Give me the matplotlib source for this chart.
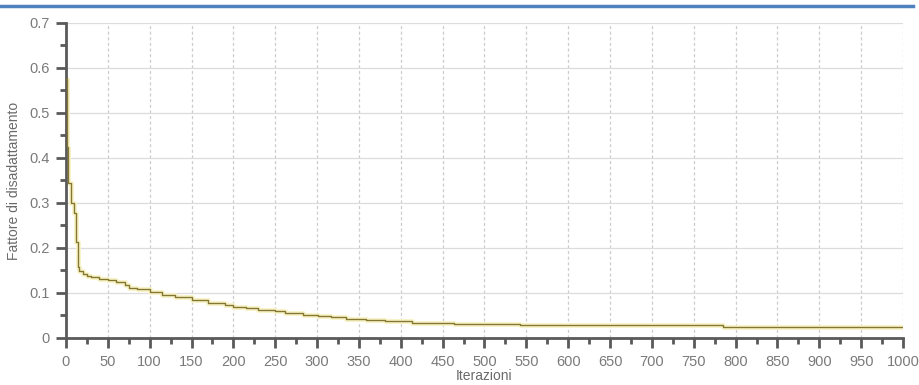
import matplotlib
matplotlib.use("Agg")
import matplotlib.pyplot as plt
from matplotlib.lines import Line2D
from matplotlib.ticker import MultipleLocator

plt.rcParams['font.family'] = ['Liberation Sans', 'DejaVu Sans']

# mismatch factor per iteration (step changes)
iterazioni = [0, 1, 3, 6, 9, 12, 14, 16, 20, 25, 30, 40, 50, 60, 70, 75, 85,
              100, 115, 130, 150, 170, 190, 200, 215, 230, 250, 262, 283, 301,
              317, 335, 359, 381, 413, 463, 543, 785, 1000]
fattore = [0.575, 0.425, 0.345, 0.300, 0.278, 0.213, 0.158, 0.148, 0.142,
           0.138, 0.135, 0.132, 0.128, 0.124, 0.118, 0.112, 0.108, 0.102,
           0.096, 0.090, 0.084, 0.078, 0.073, 0.069, 0.066, 0.062, 0.059,
           0.056, 0.052, 0.049, 0.046, 0.043, 0.040, 0.037, 0.034, 0.031,
           0.028, 0.024, 0.024]

fig = plt.figure(figsize=(9.19, 3.85), dpi=100)
ax = fig.add_axes([0.0718, 0.1221, 0.9108, 0.8182])

# soft yellow halo under the olive trace
ax.plot(iterazioni, fattore, drawstyle='steps-post', color='#f8f3c6',
        lw=3.5, solid_capstyle='butt', zorder=2)
ax.plot(iterazioni, fattore, drawstyle='steps-post', color='#857634',
        lw=1.0, zorder=3)

ax.set_xlim(0, 1000)
ax.set_ylim(0, 0.7)
ax.xaxis.set_major_locator(MultipleLocator(50))
ax.xaxis.set_minor_locator(MultipleLocator(25))
ax.yaxis.set_minor_locator(MultipleLocator(0.05))
ax.set_yticks([v / 10 for v in range(8)])
ax.set_yticklabels(['0'] + ['%.1f' % (v / 10) for v in range(1, 8)])

ax.grid(True, axis='y', which='major', color='#dcdcdc', ls='-', lw=0.9)
ax.grid(True, axis='x', which='major', color='#cdcdcd', ls=(0, (2.5, 2)),
        lw=0.9)
ax.set_axisbelow(True)

for s in ('top', 'right'):
    ax.spines[s].set_visible(False)
for s in ('left', 'bottom'):
    ax.spines[s].set_color('#5a5a5a')
    ax.spines[s].set_linewidth(2)

ax.tick_params(which='major', length=7, width=2, color='#5a5a5a',
               labelcolor='#7a7a7a', labelsize=10.5, pad=5)
ax.tick_params(which='minor', length=4, width=2, color='#5a5a5a')

ax.set_xlabel('Iterazioni', color='#6a6a6a', fontsize=10, labelpad=0)
ax.set_ylabel('Fattore di disadattamento', color='#6a6a6a', fontsize=10,
              labelpad=6)

# blue rule across the top of the page
fig.add_artist(Line2D([0, 0.993], [0.984, 0.984], color='#4f81bd', lw=2.5,
                      transform=fig.transFigure))

fig.savefig('out.png', dpi=100, facecolor='white')
